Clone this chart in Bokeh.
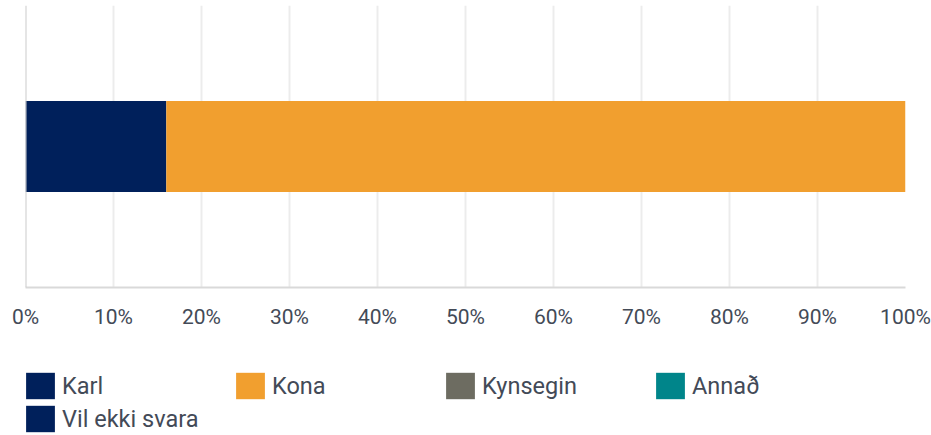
from bokeh.plotting import figure
from bokeh.layouts import column
from bokeh.models import (Range1d, FactorRange, FixedTicker, Legend, LegendItem,
                          Span, ColumnDataSource)
from bokeh.embed import file_html
from bokeh.resources import INLINE

# ---- data ----
categories = ["Kyn"]
series_keys = ["karl", "kona", "kynsegin", "annad", "vil_ekki_svara"]
series_labels = ["Karl", "Kona", "Kynsegin", "Annað", "Vil ekki svara"]
series_colors = ["#00205b", "#f19f2f", "#6d6c61", "#00858a", "#00205b"]
karl = [16.0]
kona = [84.0]
kynsegin = [0.0]
annad = [0.0]
vil_ekki_svara = [0.0]
tick_values = [0, 10, 20, 30, 40, 50, 60, 70, 80, 90, 100]
tick_labels = ["0%", "10%", "20%", "30%", "40%", "50%", "60%", "70%", "80%", "90%", "100%"]

FONT = "Roboto"
TEXT_COLOR = "#434a57"

source = ColumnDataSource(dict(cat=categories, karl=karl, kona=kona, kynsegin=kynsegin,
                               annad=annad, vil_ekki_svara=vil_ekki_svara))

# ---- main chart ----
p = figure(width=931, height=340,
           x_range=Range1d(tick_values[0], tick_values[-1]),
           y_range=FactorRange(factors=categories, range_padding=0),
           output_backend="svg", toolbar_location=None,
           min_border_left=25, min_border_right=26, min_border_top=5, min_border_bottom=53)
p.outline_line_color = None
p.background_fill_color = "white"
p.border_fill_color = "white"

p.hbar_stack(series_keys, y="cat", height=0.323, color=series_colors,
             line_color=None, source=source)

p.ygrid.visible = False
p.xgrid.ticker = FixedTicker(ticks=tick_values)
p.xgrid.grid_line_color = "#ececec"
p.xgrid.grid_line_width = 2
p.xgrid.level = "underlay"

p.yaxis.visible = False
baseline = Span(location=tick_values[0], dimension="height", line_color="#cbcbcb", line_width=2)
p.add_layout(baseline)

xa = p.xaxis[0]
xa.ticker = FixedTicker(ticks=tick_values)
xa.major_label_overrides = {v: l for v, l in zip(tick_values, tick_labels)}
xa.axis_line_color = "#d9d9d9"
xa.axis_line_width = 2
xa.major_tick_line_color = None
xa.minor_tick_line_color = None
xa.major_label_standoff = 11
xa.major_label_text_font = FONT
xa.major_label_text_font_size = "21px"
xa.major_label_text_color = TEXT_COLOR

# ---- legend strip (legend keys only; their bars have zero thickness) ----
pl = figure(width=931, height=95, x_range=Range1d(-2, -1),
            y_range=FactorRange(factors=categories, range_padding=0),
            output_backend="svg", toolbar_location=None,
            min_border_left=25, min_border_right=26, min_border_top=0, min_border_bottom=0)
pl.axis.visible = False
pl.grid.visible = False
pl.outline_line_color = None
pl.background_fill_color = "white"
pl.border_fill_color = "white"

legend_renderers = pl.hbar_stack(series_keys, y="cat", height=0, color=series_colors,
                                 line_color=None, source=source)
items = [LegendItem(label=lab, renderers=[r]) for lab, r in zip(series_labels, legend_renderers)]
legend = Legend(items=items, ncols=4, orientation="horizontal",
                glyph_width=36, glyph_height=33,
                label_text_font=FONT, label_text_font_size="23.5px", label_text_color=TEXT_COLOR,
                label_standoff=4, label_width=170, spacing=0, padding=0, margin=0,
                border_line_color=None, background_fill_alpha=0, location=(-3, 0))
pl.add_layout(legend)

layout = column(p, pl, spacing=0)
open("out.html", "w").write(file_html(layout, INLINE))
